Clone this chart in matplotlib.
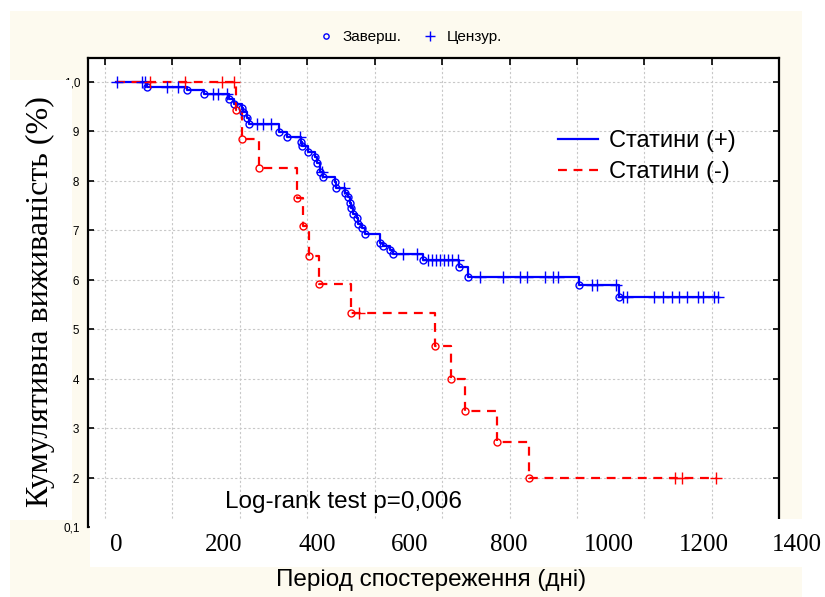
import numpy as np
import matplotlib
matplotlib.use("Agg")
import matplotlib.pyplot as plt
from matplotlib.lines import Line2D
from matplotlib.patches import Rectangle

plt.rcParams['font.family'] = ['Liberation Sans', 'DejaVu Sans']

# Статини (+): event times (days), survival after each event, censored times
pos_event_t = [64, 146, 181, 232, 243, 259, 261, 269, 273, 335, 352, 380, 382,
               395, 409, 413, 419, 426, 450, 452, 471, 477, 481, 483, 487, 495,
               498, 506, 512, 543, 549, 563, 570, 631, 705, 724, 952, 1034]
pos_event_s = [0.990, 0.984, 0.976, 0.966, 0.956, 0.947, 0.939, 0.927, 0.915,
               0.899, 0.889, 0.879, 0.871, 0.859, 0.848, 0.836, 0.818, 0.808,
               0.798, 0.786, 0.776, 0.768, 0.756, 0.745, 0.733, 0.725, 0.713,
               0.705, 0.693, 0.675, 0.669, 0.661, 0.653, 0.640, 0.626, 0.606,
               0.590, 0.566]
pos_cens_t = [2, 53, 60, 105, 127, 199, 210, 228, 290, 302, 319, 378, 424, 469,
              590, 619, 641, 650, 658, 666, 674, 683, 691, 703, 748, 796, 831,
              845, 882, 898, 909, 979, 989, 1028, 1042, 1051, 1106, 1125, 1143,
              1157, 1174, 1197, 1207, 1229, 1238]

# Статини (-)
neg_event_t = [247, 259, 294, 372, 384, 397, 417, 483, 656, 689, 718, 783, 849]
neg_event_s = [0.943, 0.885, 0.826, 0.766, 0.709, 0.649, 0.592, 0.533, 0.467,
               0.400, 0.335, 0.271, 0.199]
neg_cens_t = [70, 142, 218, 243, 500, 1149, 1164, 1234]

x_labels = ['0', '200', '400', '600', '800', '1000', '1200', '1400']
x_label_px = [116, 224, 317, 410, 509, 609, 704, 797]
y_vals = [0.1, 0.2, 0.3, 0.4, 0.5, 0.6, 0.7, 0.8, 0.9, 1.0]
y_labels = ['0,1', '0,2', '0,3', '0,4', '0,5', '0,6', '0,7', '0,8', '0,9', '1,0']

BLUE = '#0000FF'
RED = '#FF0000'
CREAM = '#FDFAEF'
W, H = 825, 597


def km_steps(event_t, event_s, cens_t):
    t = np.r_[0, event_t, max(max(cens_t), max(event_t))]
    s = np.r_[1.0, event_s, event_s[-1]]
    return t, s


def level_at(tq, event_t, event_s):
    idx = np.searchsorted(event_t, tq, side='right')
    return np.r_[1.0, event_s][idx]


fig = plt.figure(figsize=(W / 100, H / 100), dpi=100)
fig.patch.set_facecolor('white')
fig.add_artist(Rectangle((10 / W, 0), 792 / W, 586 / H, transform=fig.transFigure,
                         facecolor=CREAM, edgecolor='none', zorder=-1))

ax = fig.add_axes([88 / W, 70 / H, 691 / W, 469 / H])
ax.set_facecolor('white')
ax.set_xlim(-57.6, 1363)
ax.set_ylim(0.1, 1.0485)

grid_x = -22.6 + 138.6 * np.arange(10)
ax.set_xticks(grid_x)
ax.set_xticklabels([])
ax.set_yticks(y_vals)
ax.set_yticklabels(y_labels, fontsize=8.5)
ax.tick_params(axis='x', direction='in', top=True, bottom=False, length=5, width=1.2)
ax.tick_params(axis='y', direction='in', left=True, right=True, length=4, width=1.2, pad=5.5)
ax.grid(True, color='#C8C8C8', linestyle=(0, (2, 2)), linewidth=0.8)
ax.set_axisbelow(True)
for side in ['left', 'right', 'top']:
    ax.spines[side].set_linewidth(1.6)
ax.spines['bottom'].set_visible(False)

# Kaplan-Meier curves
t, s = km_steps(pos_event_t, pos_event_s, pos_cens_t)
ax.step(t, s, where='post', color=BLUE, lw=1.6, zorder=3)
t, s = km_steps(neg_event_t, neg_event_s, neg_cens_t)
ax.step(t, s, where='post', color=RED, lw=1.6, linestyle=(0, (4, 3)), zorder=3)

# events (circles) and censored (+)
ax.plot(pos_event_t, pos_event_s, 'o', mfc='none', mec=BLUE, ms=5, mew=1.0, zorder=4)
ax.plot(pos_cens_t, level_at(pos_cens_t, pos_event_t, pos_event_s), '+',
        color=BLUE, ms=8, mew=1.0, zorder=4)
ax.plot(neg_event_t, neg_event_s, 'o', mfc='none', mec=RED, ms=5, mew=1.0, zorder=4)
ax.plot(neg_cens_t, level_at(neg_cens_t, neg_event_t, neg_event_s), '+',
        color=RED, ms=8, mew=1.0, zorder=4)

groups = [Line2D([], [], color=BLUE, lw=1.6),
          Line2D([], [], color=RED, lw=1.6, linestyle=(0, (4, 3)))]
ax.legend(groups, ['Статини (+)', 'Статини (-)'], loc='center left',
          bbox_to_anchor=(0.680, 0.790), frameon=False, fontsize=17,
          handlelength=1.7, handletextpad=0.45, labelspacing=0.38,
          borderpad=0, borderaxespad=0)

ax.text(0.198, 0.053, 'Log-rank test p=0,006', transform=ax.transAxes,
        fontsize=17.5, ha='left', va='center')

marks = [Line2D([], [], marker='o', mfc='none', mec=BLUE, ms=3.8, mew=1.0, ls='none'),
         Line2D([], [], marker='+', color=BLUE, ms=7, mew=1.0, ls='none')]
fig.legend(marks, ['Заверш.', 'Цензур.'], loc='center', ncol=2,
           bbox_to_anchor=(410 / W, 1 - 37 / H), frameon=False, fontsize=11,
           handlelength=1.0, handletextpad=0.6, columnspacing=1.33)

# white label panels over the cream background
fig.add_artist(Rectangle((10 / W, 1 - 520 / H), 62 / W, 440 / H, transform=fig.transFigure,
                         facecolor='white', edgecolor='none', zorder=2))
fig.add_artist(Rectangle((90 / W, 1 - 567 / H), 735 / W, 48 / H, transform=fig.transFigure,
                         facecolor='white', edgecolor='none', zorder=2))

for lab, px in zip(x_labels, x_label_px):
    fig.text(px / W, 1 - 545 / H, lab, ha='center', va='center', fontsize=18,
             family='Liberation Serif', zorder=3)

fig.text(431 / W, 1 - 580 / H, 'Період спостереження (дні)', ha='center', va='center',
         fontsize=17.5, zorder=3)
fig.text(40 / W, 1 - 302 / H, 'Кумулятивна виживаність (%)', rotation=90,
         ha='center', va='center', fontsize=23, family='Liberation Serif', zorder=3)

fig.savefig('out.png', dpi=100)
